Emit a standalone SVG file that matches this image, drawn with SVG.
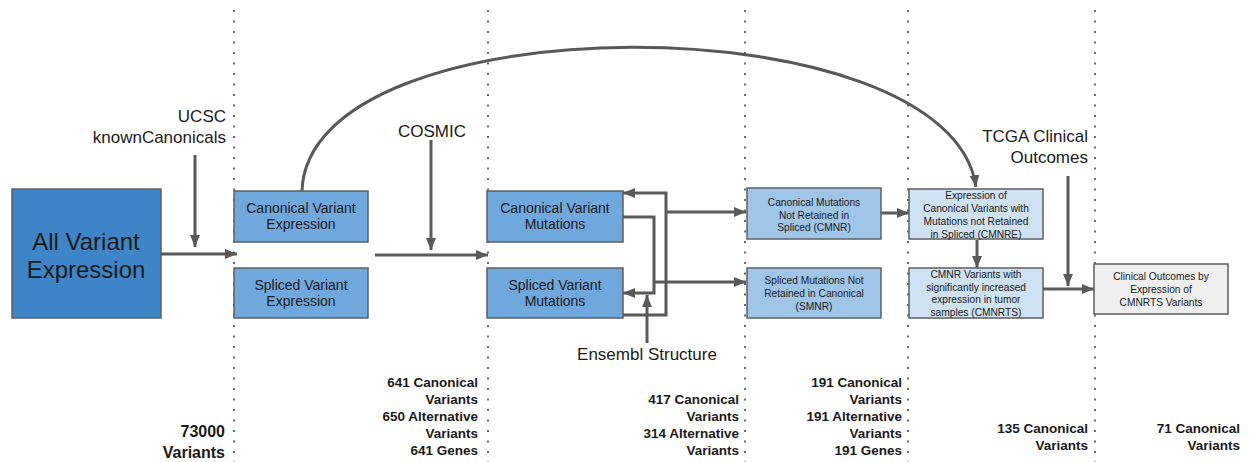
<svg xmlns="http://www.w3.org/2000/svg" width="1252" height="462" viewBox="0 0 1252 462">
<style>
.dot{stroke:#6a6a6a;stroke-width:2;stroke-dasharray:2 8.5;fill:none}
.box{stroke:#5f5f5f;stroke-width:1.5}
.c1{fill:#3d85c6}.c2{fill:#6fa8dc}.c3{fill:#9fc5e8}.c4{fill:#cfe2f3}.c5{fill:#efefef}
.t{font-family:"Liberation Sans",Arial,sans-serif;fill:#1a1a1a;text-anchor:middle}
.big{font-size:24px}.mid{font-size:14px}.sm{font-size:10.2px}
.lab{font-family:"Liberation Sans",Arial,sans-serif;font-size:17px;fill:#1a1a1a}
.cnt{font-family:"Liberation Sans",Arial,sans-serif;font-size:13.5px;font-weight:bold;fill:#1a1a1a;text-anchor:end}
.con{stroke:#595959;stroke-width:3;fill:none}
</style>
<defs>
<marker id="ah" viewBox="0 0 12 10" refX="12" refY="5" markerWidth="12" markerHeight="10" markerUnits="userSpaceOnUse" orient="auto">
<path d="M0,0 L12,5 L0,10 Z" fill="#595959"/>
</marker>
</defs>
<rect width="1252" height="462" fill="#fff"/>
<g id="dividers">
<line class="dot" x1="234" y1="10" x2="234" y2="462"/>
<line class="dot" x1="488" y1="10" x2="488" y2="462"/>
<line class="dot" x1="745" y1="10" x2="745" y2="462"/>
<line class="dot" x1="908" y1="10" x2="908" y2="462"/>
<line class="dot" x1="1095" y1="10" x2="1095" y2="462"/>
</g>
<g id="connectors">
<path class="con" d="M161,254 H237" marker-end="url(#ah)"/>
<path class="con" d="M195,155 V247" marker-end="url(#ah)"/>
<path class="con" d="M375,255 H488" marker-end="url(#ah)"/>
<path class="con" d="M431,140 V250" marker-end="url(#ah)"/>
<path class="con" d="M302,191 C308,0 950,0 976,187" marker-end="url(#ah)"/>
<path class="con" d="M623,217 H654 V293 H623" marker-end="url(#ah)"/>
<path class="con" d="M623,315 H666 V193 H623" marker-end="url(#ah)"/>
<path class="con" d="M666,212 H746" marker-end="url(#ah)"/>
<path class="con" d="M654,282 H746" marker-end="url(#ah)"/>
<path class="con" d="M647,343 V295" marker-end="url(#ah)"/>
<path class="con" d="M881,213 H909" marker-end="url(#ah)"/>
<path class="con" d="M977,240 V268" marker-end="url(#ah)"/>
<path class="con" d="M1068,176 V286" marker-end="url(#ah)"/>
<path class="con" d="M1043,289 H1094" marker-end="url(#ah)"/>
</g>
<g id="n-all">
<rect class="box c1" x="12" y="189" width="149" height="129"/>
<text class="t big" x="86" y="250">All Variant</text>
<text class="t big" x="86" y="278">Expression</text>
</g>
<g id="n-cve">
<rect class="box c2" x="234" y="191" width="134" height="51"/>
<text class="t mid" x="301" y="213">Canonical Variant</text>
<text class="t mid" x="301" y="229">Expression</text>
</g>
<g id="n-sve">
<rect class="box c2" x="234" y="268" width="134" height="50"/>
<text class="t mid" x="301" y="290">Spliced Variant</text>
<text class="t mid" x="301" y="306">Expression</text>
</g>
<g id="n-cvm">
<rect class="box c2" x="487" y="191" width="136" height="51"/>
<text class="t mid" x="555" y="213">Canonical Variant</text>
<text class="t mid" x="555" y="229">Mutations</text>
</g>
<g id="n-svm">
<rect class="box c2" x="487" y="268" width="136" height="50"/>
<text class="t mid" x="555" y="290">Spliced Variant</text>
<text class="t mid" x="555" y="306">Mutations</text>
</g>
<g id="n-cmnr">
<rect class="box c3" x="747" y="188" width="134" height="51"/>
<text class="t sm" x="814" y="206">Canonical Mutations</text>
<text class="t sm" x="814" y="218.5">Not Retained in</text>
<text class="t sm" x="814" y="231">Spliced (CMNR)</text>
</g>
<g id="n-smnr">
<rect class="box c3" x="747" y="268" width="134" height="50"/>
<text class="t sm" x="814" y="284">Spliced Mutations Not</text>
<text class="t sm" x="814" y="297">Retained in Canonical</text>
<text class="t sm" x="814" y="310">(SMNR)</text>
</g>
<g id="n-cmnre">
<rect class="box c4" x="909" y="189" width="134" height="50"/>
<text class="t sm" x="976" y="199">Expression of</text>
<text class="t sm" x="976" y="212">Canonical Variants with</text>
<text class="t sm" x="976" y="225">Mutations not Retained</text>
<text class="t sm" x="976" y="238">in Spliced (CMNRE)</text>
</g>
<g id="n-cmnrts">
<rect class="box c4" x="909" y="268" width="134" height="50"/>
<text class="t sm" x="976" y="278">CMNR Variants with</text>
<text class="t sm" x="976" y="290.5">significantly increased</text>
<text class="t sm" x="976" y="303">expression in tumor</text>
<text class="t sm" x="976" y="316">samples (CMNRTS)</text>
</g>
<g id="n-clin">
<rect class="box c5" x="1094" y="264" width="134" height="50"/>
<text class="t sm" x="1161" y="280">Clinical Outcomes by</text>
<text class="t sm" x="1161" y="293">Expression of</text>
<text class="t sm" x="1161" y="306">CMNRTS Variants</text>
</g>
<g id="labels">
<text class="lab" x="226" y="122" text-anchor="end">UCSC</text>
<text class="lab" x="226" y="143" text-anchor="end">knownCanonicals</text>
<text class="lab" x="432" y="137" text-anchor="middle">COSMIC</text>
<text class="lab" x="647" y="360" text-anchor="middle">Ensembl Structure</text>
<text class="lab" x="1088" y="142" text-anchor="end">TCGA Clinical</text>
<text class="lab" x="1088" y="163" text-anchor="end">Outcomes</text>
</g>
<g id="counts">
<text class="cnt" x="225" y="437" style="font-size:16px">73000</text>
<text class="cnt" x="225" y="458" style="font-size:16px">Variants</text>
<text class="cnt" x="478" y="387">641 Canonical</text>
<text class="cnt" x="478" y="404">Variants</text>
<text class="cnt" x="478" y="421">650 Alternative</text>
<text class="cnt" x="478" y="438">Variants</text>
<text class="cnt" x="478" y="455">641 Genes</text>
<text class="cnt" x="739" y="404">417 Canonical</text>
<text class="cnt" x="739" y="421">Variants</text>
<text class="cnt" x="739" y="438">314 Alternative</text>
<text class="cnt" x="739" y="455">Variants</text>
<text class="cnt" x="902" y="387">191 Canonical</text>
<text class="cnt" x="902" y="404">Variants</text>
<text class="cnt" x="902" y="421">191 Alternative</text>
<text class="cnt" x="902" y="438">Variants</text>
<text class="cnt" x="902" y="455">191 Genes</text>
<text class="cnt" x="1088" y="433">135 Canonical</text>
<text class="cnt" x="1088" y="450">Variants</text>
<text class="cnt" x="1240" y="433">71 Canonical</text>
<text class="cnt" x="1240" y="450">Variants</text>
</g>
</svg>
